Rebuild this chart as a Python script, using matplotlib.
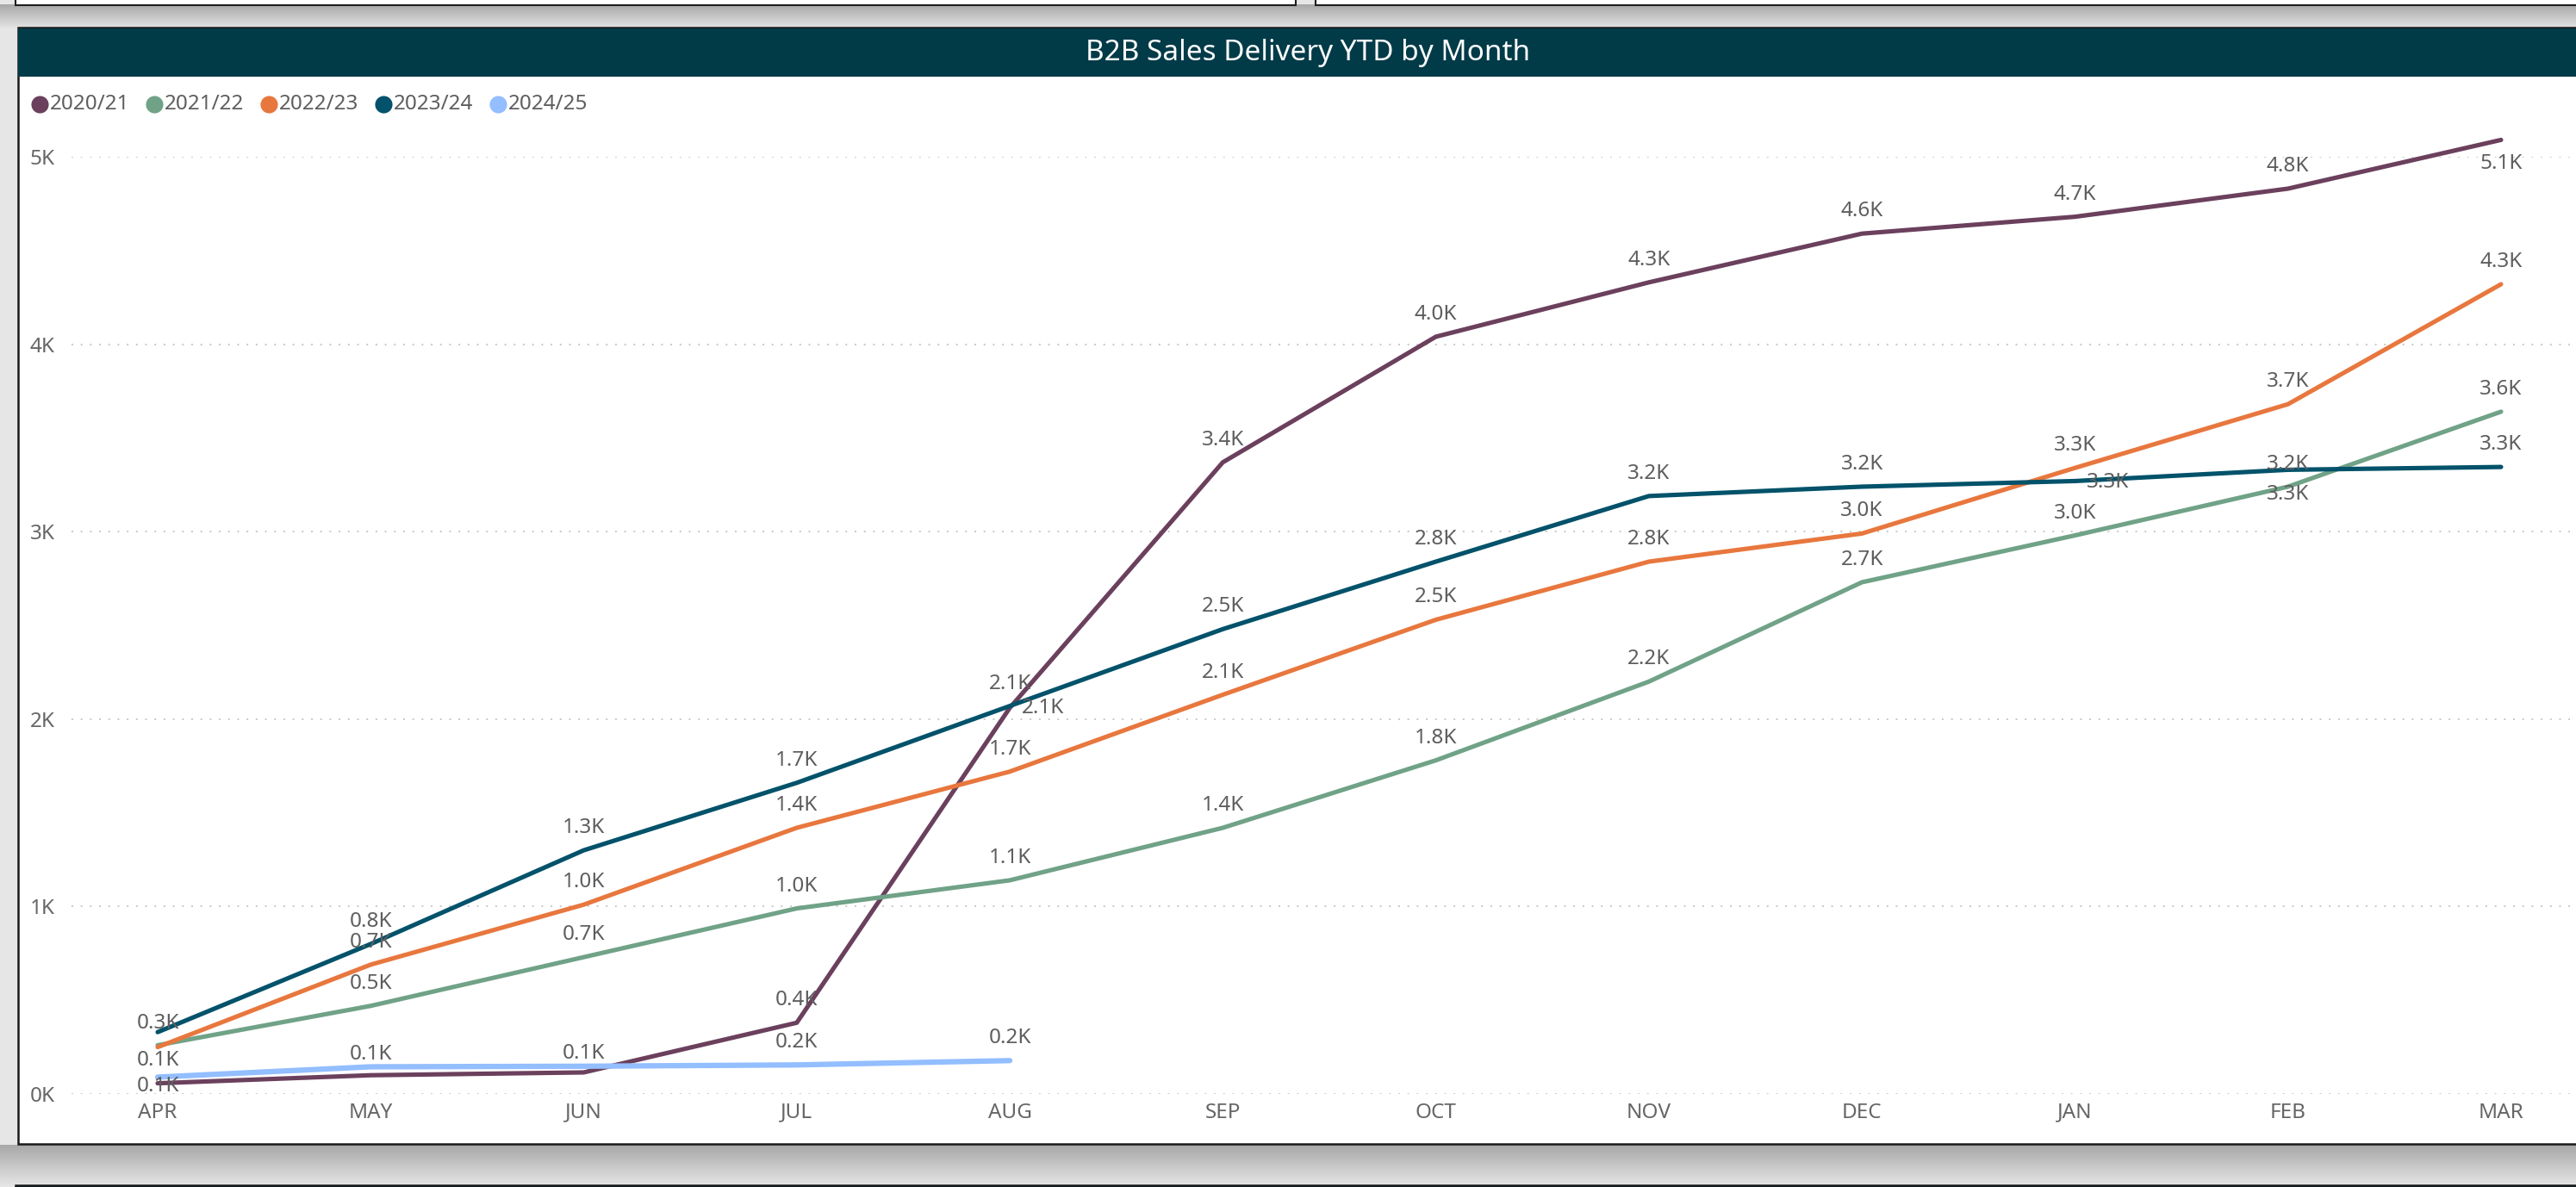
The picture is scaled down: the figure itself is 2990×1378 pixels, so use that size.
import numpy as np
import matplotlib
matplotlib.use("Agg")
import matplotlib.pyplot as plt
from matplotlib.patches import Rectangle
from matplotlib.colors import LinearSegmentedColormap

# data
months = ["APR", "MAY", "JUN", "JUL", "AUG", "SEP", "OCT", "NOV", "DEC", "JAN", "FEB", "MAR"]
seasons = ["2020/21", "2021/22", "2022/23", "2023/24", "2024/25"]
ytd_2020 = [57, 100, 115, 380, 2060, 3370, 4040, 4330, 4590, 4680, 4830, 5090]
ytd_2021 = [260, 470, 730, 990, 1140, 1420, 1780, 2200, 2730, 2980, 3240, 3640]
ytd_2022 = [250, 690, 1010, 1420, 1720, 2130, 2530, 2840, 2990, 3340, 3680, 4320]
ytd_2023 = [330, 800, 1300, 1660, 2070, 2480, 2840, 3190, 3240, 3270, 3330, 3345]
ytd_2024 = [90, 145, 148, 155, 178]
yticks = [0, 1000, 2000, 3000, 4000, 5000]
ytick_labels = ["0K", "1K", "2K", "3K", "4K", "5K"]

series = [ytd_2020, ytd_2021, ytd_2022, ytd_2023, ytd_2024]
colors = ["#6B405D", "#70A287", "#E8773E", "#01526A", "#93BEFF"]
widths = [3.7, 3.7, 3.7, 3.7, 4.5]

# data label tweaks (pixel offsets) where Power BI moved or hid them
hidden = {(0, 1), (0, 2), (1, 0), (2, 0)}
shift = {(0, 0): (0, -3), (0, 4): (38, 0), (0, 11): (0, -28),
         (3, 0): (0, 10), (3, 9): (38, -2), (3, 10): (0, -29),
         (4, 0): (0, 19), (4, 1): (0, 14), (4, 2): (0, 15)}

W, H = 2990, 1378
fig = plt.figure(figsize=(W / 100, H / 100), dpi=100)
fig.patch.set_facecolor("#E6E6E6")
font = "Noto Sans"
txt = "#5E5E5E"
fs = 17.5

# background frame, pixel coordinates
bg = fig.add_axes([0, 0, 1, 1])
shade = LinearSegmentedColormap.from_list("sh", ["#A8A8A8", "#E4E4E4"])
grad = np.linspace(0, 1, 64)[:, None]
bg.imshow(grad, cmap=shade, extent=(0, W, 33, 5), aspect="auto", origin="upper")
bg.imshow(grad, cmap=shade, extent=(0, W, 1376, 1329), aspect="auto", origin="upper")
bg.set_xlim(0, W)
bg.set_ylim(H, 0)
bg.axis("off")
bg.add_patch(Rectangle((18, -30), 1486, 36, fc="white", ec="#1E1E1E", lw=1.5))
bg.add_patch(Rectangle((1527, -30), 1500, 36, fc="white", ec="#1E1E1E", lw=1.5))
bg.add_patch(Rectangle((21, 32), 3000, 1296, fc="white", ec="#1A1A1A", lw=1.8))
bg.add_patch(Rectangle((21, 33), 3000, 56, fc="#023B48", ec="none"))
bg.add_patch(Rectangle((18, 1376), 3000, 40, fc="#023B48", ec="#1A1A1A", lw=1.8))
bg.text(1518, 61, "B2B Sales Delivery YTD by Month", color="white", fontsize=24,
        family=font, ha="center", va="center")

# legend
for i, (name, c) in enumerate(zip(seasons, colors)):
    x0 = 46 + i * 133
    bg.plot(x0, 121, "o", ms=14.5, color=c, mec="none")
    bg.text(x0 + 12, 121, name, color=txt, fontsize=fs, family=font,
            ha="left", va="center")

# chart
ax = fig.add_axes([83 / W, 1 - 1270 / H, 2900 / W, (1270 - 182) / H])
ax.patch.set_alpha(0)
x = np.arange(len(months))
for si, (vals, c, lw) in enumerate(zip(series, colors, widths)):
    xs = x[:len(vals)]
    ax.plot(xs, vals, color=c, lw=lw, solid_capstyle="round",
            solid_joinstyle="round", clip_on=False, zorder=3)
    for mi, v in enumerate(vals):
        if (si, mi) in hidden:
            continue
        dx, dy = shift.get((si, mi), (0, 26))
        ax.annotate(f"{v / 1000:.1f}K", (xs[mi], v), xytext=(dx, dy),
                    textcoords="offset pixels", ha="center", va="center",
                    fontsize=fs, family=font, color=txt, zorder=4,
                    annotation_clip=False)

ax.set_xlim(-100 / 247.27, 2800 / 247.27)
ax.set_ylim(0, 5000)
ax.set_xticks(x)
ax.set_xticklabels(months)
ax.set_yticks(yticks)
ax.set_yticklabels(ytick_labels)
ax.tick_params(length=0, labelsize=fs, labelcolor="#666666")
ax.tick_params(axis="y", pad=14)
ax.tick_params(axis="x", pad=7)
for lab in ax.get_xticklabels() + ax.get_yticklabels():
    lab.set_family(font)
for s in ax.spines.values():
    s.set_visible(False)
ax.grid(axis="y", color="#C8C8C8", lw=1.4, linestyle=(0, (1, 4.5)))
ax.set_axisbelow(True)

fig.savefig("out.png", dpi=100, facecolor=fig.get_facecolor())
